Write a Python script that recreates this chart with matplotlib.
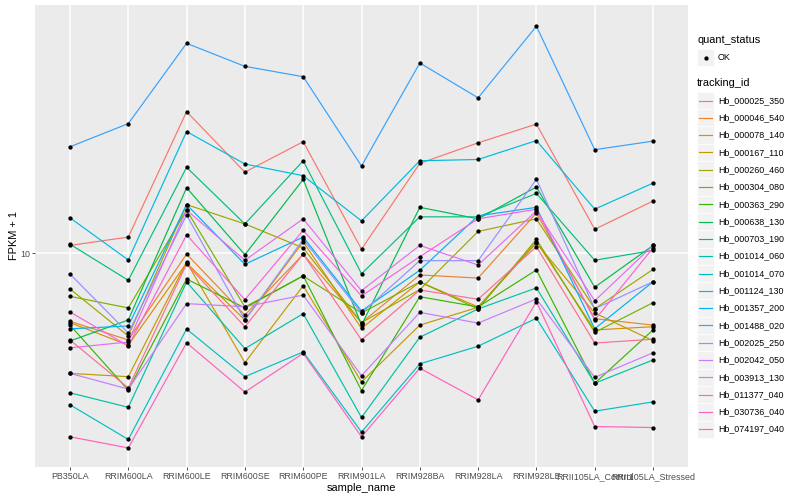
import matplotlib
matplotlib.use('Agg')
import matplotlib.pyplot as plt
from matplotlib.lines import Line2D
from matplotlib.patches import Rectangle
from matplotlib.ticker import NullLocator

plt.rcParams['font.family'] = ['Liberation Sans', 'DejaVu Sans']

samples = ['PB350LA', 'RRIM600LA', 'RRIM600LE', 'RRIM600SE', 'RRIM600PE', 'RRIM901LA',
           'RRIM928BA', 'RRIM928LA', 'RRIM928LE', 'RRII105LA_Control', 'RRII105LA_Stressed']

tracking_ids = ['Hb_000025_350', 'Hb_000046_540', 'Hb_000078_140', 'Hb_000167_110',
                'Hb_000260_460', 'Hb_000304_080', 'Hb_000363_290', 'Hb_000638_130',
                'Hb_000703_190', 'Hb_001014_060', 'Hb_001014_070', 'Hb_001124_130',
                'Hb_001357_200', 'Hb_001488_020', 'Hb_002025_250', 'Hb_002042_050',
                'Hb_003913_130', 'Hb_011377_040', 'Hb_030736_040', 'Hb_074197_040']

# ggplot hue palette, 20 levels
colors = ['#F8766D', '#EA8331', '#D89000', '#C09B00', '#A3A500', '#7CAE00', '#39B600',
          '#00BB4E', '#00BF7D', '#00C1A3', '#00BFC4', '#00BAE0', '#00B0F6', '#35A2FF',
          '#9590FF', '#C77CFF', '#E76BF3', '#FA62DB', '#FF62BC', '#FF6C91']

# FPKM + 1 per sample
hb_000025_350 = [10.6, 11.3, 29.6, 18.6, 23.5, 10.3, 19.9, 23.3, 26.9, 12.0, 14.9]
hb_000046_540 = [5.92, 5.13, 9.92, 6.21, 9.90, 5.86, 8.45, 8.25, 13.6, 6.04, 5.75]
hb_000078_140 = [5.86, 4.93, 9.26, 5.98, 10.9, 5.61, 8.01, 6.61, 10.9, 5.54, 5.68]
hb_000167_110 = [3.97, 3.87, 9.33, 4.31, 7.78, 3.72, 5.75, 6.59, 10.8, 6.31, 5.10]
hb_000260_460 = [7.59, 5.29, 14.5, 12.5, 10.4, 5.86, 7.55, 11.8, 13.0, 6.52, 8.82]
hb_000304_080 = [7.17, 6.56, 13.9, 6.61, 8.38, 6.31, 8.01, 6.51, 11.1, 5.44, 6.83]
hb_000363_290 = [5.75, 3.49, 8.19, 6.56, 8.40, 3.48, 7.15, 6.61, 8.78, 3.68, 5.54]
hb_000638_130 = [5.09, 5.98, 16.5, 9.87, 17.6, 5.75, 14.2, 13.0, 16.6, 7.69, 10.6]
hb_000703_190 = [10.7, 8.11, 19.3, 12.5, 20.3, 8.53, 13.2, 13.2, 15.8, 9.46, 10.2]
hb_001014_060 = [3.42, 3.06, 8.01, 4.80, 6.28, 2.83, 5.24, 6.51, 7.65, 3.68, 4.40]
hb_001014_070 = [3.12, 2.39, 5.58, 3.87, 4.68, 2.53, 4.27, 4.89, 6.06, 2.97, 3.19]
hb_001124_130 = [13.1, 9.48, 25.4, 19.8, 18.1, 12.8, 20.3, 20.5, 23.7, 14.0, 17.1]
hb_001357_200 = [5.59, 5.71, 14.5, 9.17, 11.3, 6.41, 8.76, 13.3, 14.2, 5.59, 8.02]
hb_001488_020 = [22.6, 27.0, 50.0, 41.9, 38.7, 19.5, 43.0, 32.9, 57.0, 22.1, 23.6]
hb_002025_250 = [8.51, 5.41, 13.4, 5.98, 11.1, 6.31, 9.43, 9.43, 17.6, 6.52, 8.02]
hb_002042_050 = [3.97, 3.52, 6.78, 6.62, 7.24, 3.90, 6.34, 5.84, 7.03, 3.85, 4.65]
hb_003913_130 = [4.83, 5.05, 13.9, 9.46, 13.0, 7.49, 10.6, 9.12, 13.8, 6.93, 10.6]
hb_011377_040 = [6.36, 4.90, 11.5, 6.99, 11.9, 7.19, 9.72, 13.0, 14.0, 5.98, 10.4]
hb_030736_040 = [2.44, 2.24, 5.02, 3.44, 4.63, 2.44, 4.13, 3.24, 6.88, 2.64, 2.62]
hb_074197_040 = [5.13, 3.55, 9.19, 5.68, 9.92, 5.13, 7.53, 7.01, 10.5, 5.01, 5.16]

series = [hb_000025_350, hb_000046_540, hb_000078_140, hb_000167_110, hb_000260_460,
          hb_000304_080, hb_000363_290, hb_000638_130, hb_000703_190, hb_001014_060,
          hb_001014_070, hb_001124_130, hb_001357_200, hb_001488_020, hb_002025_250,
          hb_002042_050, hb_003913_130, hb_011377_040, hb_030736_040, hb_074197_040]

W, H = 800, 500
fig = plt.figure(figsize=(8, 5), dpi=100)
ax = fig.add_axes([35 / W, 33 / H, 653 / W, 462 / H])
ax.set_facecolor('#EBEBEB')
for s in ax.spines.values():
    s.set_visible(False)

x = list(range(len(samples)))
for vals, c in zip(series, colors):
    ax.plot(x, vals, color=c, lw=0.85, zorder=2)
for vals in series:
    ax.plot(x, vals, 'o', color='black', ms=2.1, zorder=3)

ax.set_yscale('log')
ax.set_ylim(1.935, 67.1)
ax.set_yticks([10])
ax.set_yticklabels(['10'])
ax.yaxis.set_minor_locator(NullLocator())
ax.set_xlim(-0.6, 10.6)
ax.set_xticks(x)
ax.set_xticklabels(samples)
ax.grid(True, color='white', lw=1.1)
ax.set_axisbelow(True)
ax.tick_params(colors='#333333', labelcolor='#4D4D4D', labelsize=6.4, length=2, width=0.6, pad=1.5)
ax.set_xlabel('sample_name', fontsize=7.9, labelpad=1.5)
ax.set_ylabel('FPKM + 1', fontsize=7.9, labelpad=1)


def fx(px):
    return px / W


def fy(py):
    return 1 - py / H


# legend: quant_status
fig.text(fx(697), fy(40), 'quant_status', fontsize=7.9, va='center', ha='left')
fig.add_artist(Rectangle((fx(697), fy(66)), 17 / W, 17 / H, transform=fig.transFigure,
                         facecolor='#F2F2F2', edgecolor='white', lw=0.5))
fig.add_artist(Line2D([fx(705.5)], [fy(57.5)], marker='o', color='black', ms=2.1,
                      transform=fig.transFigure))
fig.text(fx(718), fy(57.5), 'OK', fontsize=6.4, va='center', ha='left')

# legend: tracking_id
fig.text(fx(697), fy(83), 'tracking_id', fontsize=7.9, va='center', ha='left')
for i, (tid, c) in enumerate(zip(tracking_ids, colors)):
    yc = 100.5 + 17.3 * i
    fig.add_artist(Rectangle((fx(697), fy(yc + 8.65)), 17.3 / W, 17.3 / H,
                             transform=fig.transFigure, facecolor='#F2F2F2',
                             edgecolor='white', lw=0.5))
    fig.add_artist(Line2D([fx(699), fx(712)], [fy(yc), fy(yc)], color=c, lw=0.85,
                          transform=fig.transFigure))
    fig.text(fx(718), fy(yc), tid, fontsize=6.4, va='center', ha='left')

fig.savefig('out.png', dpi=100)
